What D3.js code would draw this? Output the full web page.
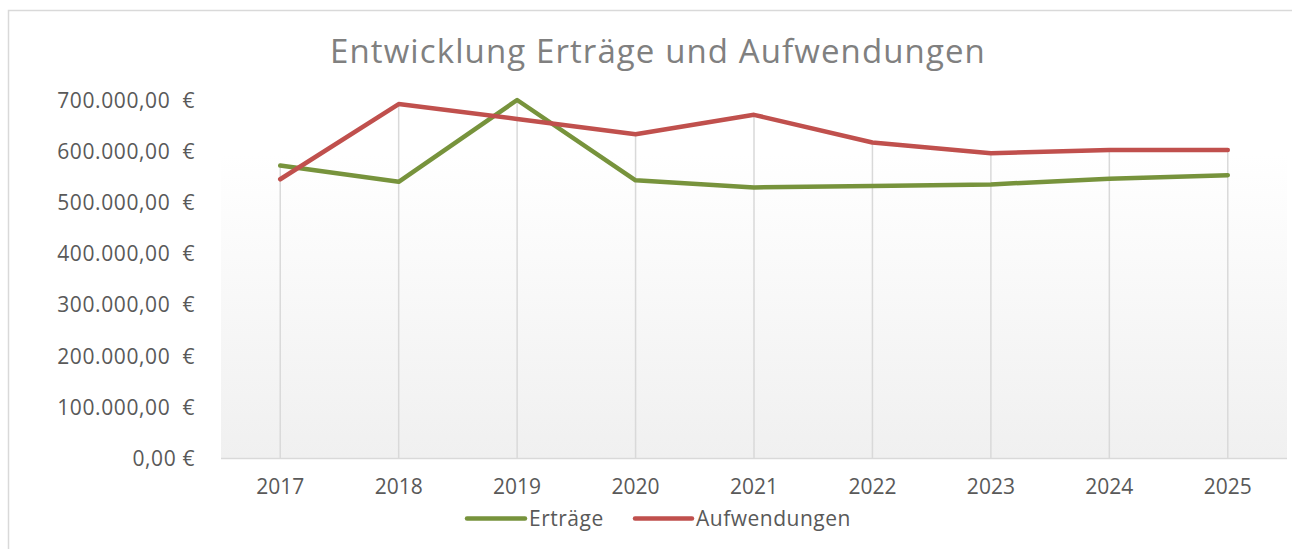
<!DOCTYPE html>
<html>
<head>
<meta charset="utf-8">
<script src="https://cdn.jsdelivr.net/npm/d3@7"></script>
<style>
html,body{margin:0;padding:0;background:#fff;}
svg{display:block;font-family:"Open Sans",sans-serif;}
</style>
</head>
<body>
<svg id="chart" width="1292" height="549"></svg>
<script>
const years = ["2017","2018","2019","2020","2021","2022","2023","2024","2025"];
const ertraege = [572000, 540000, 700000, 543000, 529000, 532000, 535000, 546000, 553000];
const aufwendungen = [545000, 692000, 663000, 633000, 671000, 617000, 596000, 602000, 602000];
const yTicks = [0, 100000, 200000, 300000, 400000, 500000, 600000, 700000];
const tickLabels = ["0,00\u00a0€", "100.000,00\u00a0\u00a0€", "200.000,00\u00a0\u00a0€", "300.000,00\u00a0\u00a0€",
  "400.000,00\u00a0\u00a0€", "500.000,00\u00a0\u00a0€", "600.000,00\u00a0\u00a0€", "700.000,00\u00a0\u00a0€"];
const seriesNames = ["Erträge", "Aufwendungen"];
const colors = ["#77933C", "#C0504D"];
const title = "Entwicklung Erträge und Aufwendungen";

const svg = d3.select("#chart");
const plot = {left: 221, right: 1287, top: 100, bottom: 458};

// chart border
svg.append("rect").attr("x", 8.5).attr("y", 10.5).attr("width", 1400).attr("height", 600)
  .attr("fill", "#fff").attr("stroke", "#d9d9d9").attr("stroke-width", 1.5);

const x = d3.scaleBand().domain(years).range([plot.left, plot.right]).padding(0);
const y = d3.scaleLinear().domain([0, 700000]).range([plot.bottom, plot.top]);
const cx = d => x(d) + x.bandwidth() / 2;

// gradient background
const defs = svg.append("defs");
const grad = defs.append("linearGradient").attr("id", "bg").attr("x1", 0).attr("y1", 0).attr("x2", 0).attr("y2", 1);
grad.append("stop").attr("offset", "0%").attr("stop-color", "#ffffff");
grad.append("stop").attr("offset", "15%").attr("stop-color", "#ffffff");
grad.append("stop").attr("offset", "100%").attr("stop-color", "#f0f0f0");
svg.append("rect").attr("x", plot.left).attr("y", plot.top)
  .attr("width", plot.right - plot.left).attr("height", plot.bottom - plot.top)
  .attr("fill", "url(#bg)");

// drop lines
svg.append("g").selectAll("line").data(years).join("line")
  .attr("x1", d => cx(d)).attr("x2", d => cx(d))
  .attr("y1", (d, i) => y(Math.max(ertraege[i], aufwendungen[i])))
  .attr("y2", plot.bottom)
  .attr("stroke", "#d9d9d9").attr("stroke-width", 1.5);

// x axis line
svg.append("line").attr("x1", plot.left).attr("x2", plot.right)
  .attr("y1", plot.bottom + 0.5).attr("y2", plot.bottom + 0.5)
  .attr("stroke", "#d9d9d9").attr("stroke-width", 1.5);

// y axis (labels only)
const yAxis = d3.axisLeft(y).tickValues(yTicks).tickSize(0).tickPadding(0)
  .tickFormat((d, i) => tickLabels[i]);
const gy = svg.append("g").attr("transform", "translate(195,0)").call(yAxis);
gy.select(".domain").remove();
gy.selectAll("text").attr("fill", "#595959").style("font-size", "21px")
  .style("letter-spacing", "0.6px")
  .style("font-family", "'Open Sans', sans-serif").attr("dy", "0.35em");

// x axis labels
const xAxis = d3.axisBottom(x).tickSize(0).tickPadding(0);
const gx = svg.append("g").attr("transform", `translate(0,${plot.bottom})`).call(xAxis);
gx.select(".domain").remove();
gx.selectAll("text").attr("fill", "#595959").style("font-size", "21px")
  .style("font-family", "'Open Sans', sans-serif").attr("y", 36).attr("dy", 0);

// lines
const line = d3.line().x((d, i) => cx(years[i])).y(d => y(d));
[ertraege, aufwendungen].forEach((s, k) => {
  svg.append("path").datum(s).attr("d", line).attr("fill", "none")
    .attr("stroke", colors[k]).attr("stroke-width", 4.5)
    .attr("stroke-linejoin", "round").attr("stroke-linecap", "round");
});

// title
svg.append("text").attr("x", 658).attr("y", 63).attr("text-anchor", "middle")
  .attr("fill", "#808080").style("font-size", "33px").style("letter-spacing", "1.1px")
  .style("font-family", "'Open Sans', sans-serif")
  .text(title);

// legend
const legendItems = [
  {x1: 467, x2: 525, tx: 529},
  {x1: 635, x2: 692, tx: 696}
];
legendItems.forEach((it, k) => {
  svg.append("line").attr("x1", it.x1).attr("x2", it.x2).attr("y1", 518.5).attr("y2", 518.5)
    .attr("stroke", colors[k]).attr("stroke-width", 4.5).attr("stroke-linecap", "round");
  svg.append("text").attr("x", it.tx).attr("y", 526).attr("fill", "#595959")
    .style("font-size", "21px").style("letter-spacing", "0.5px")
    .style("font-family", "'Open Sans', sans-serif")
    .text(seriesNames[k]);
});
</script>
</body>
</html>
